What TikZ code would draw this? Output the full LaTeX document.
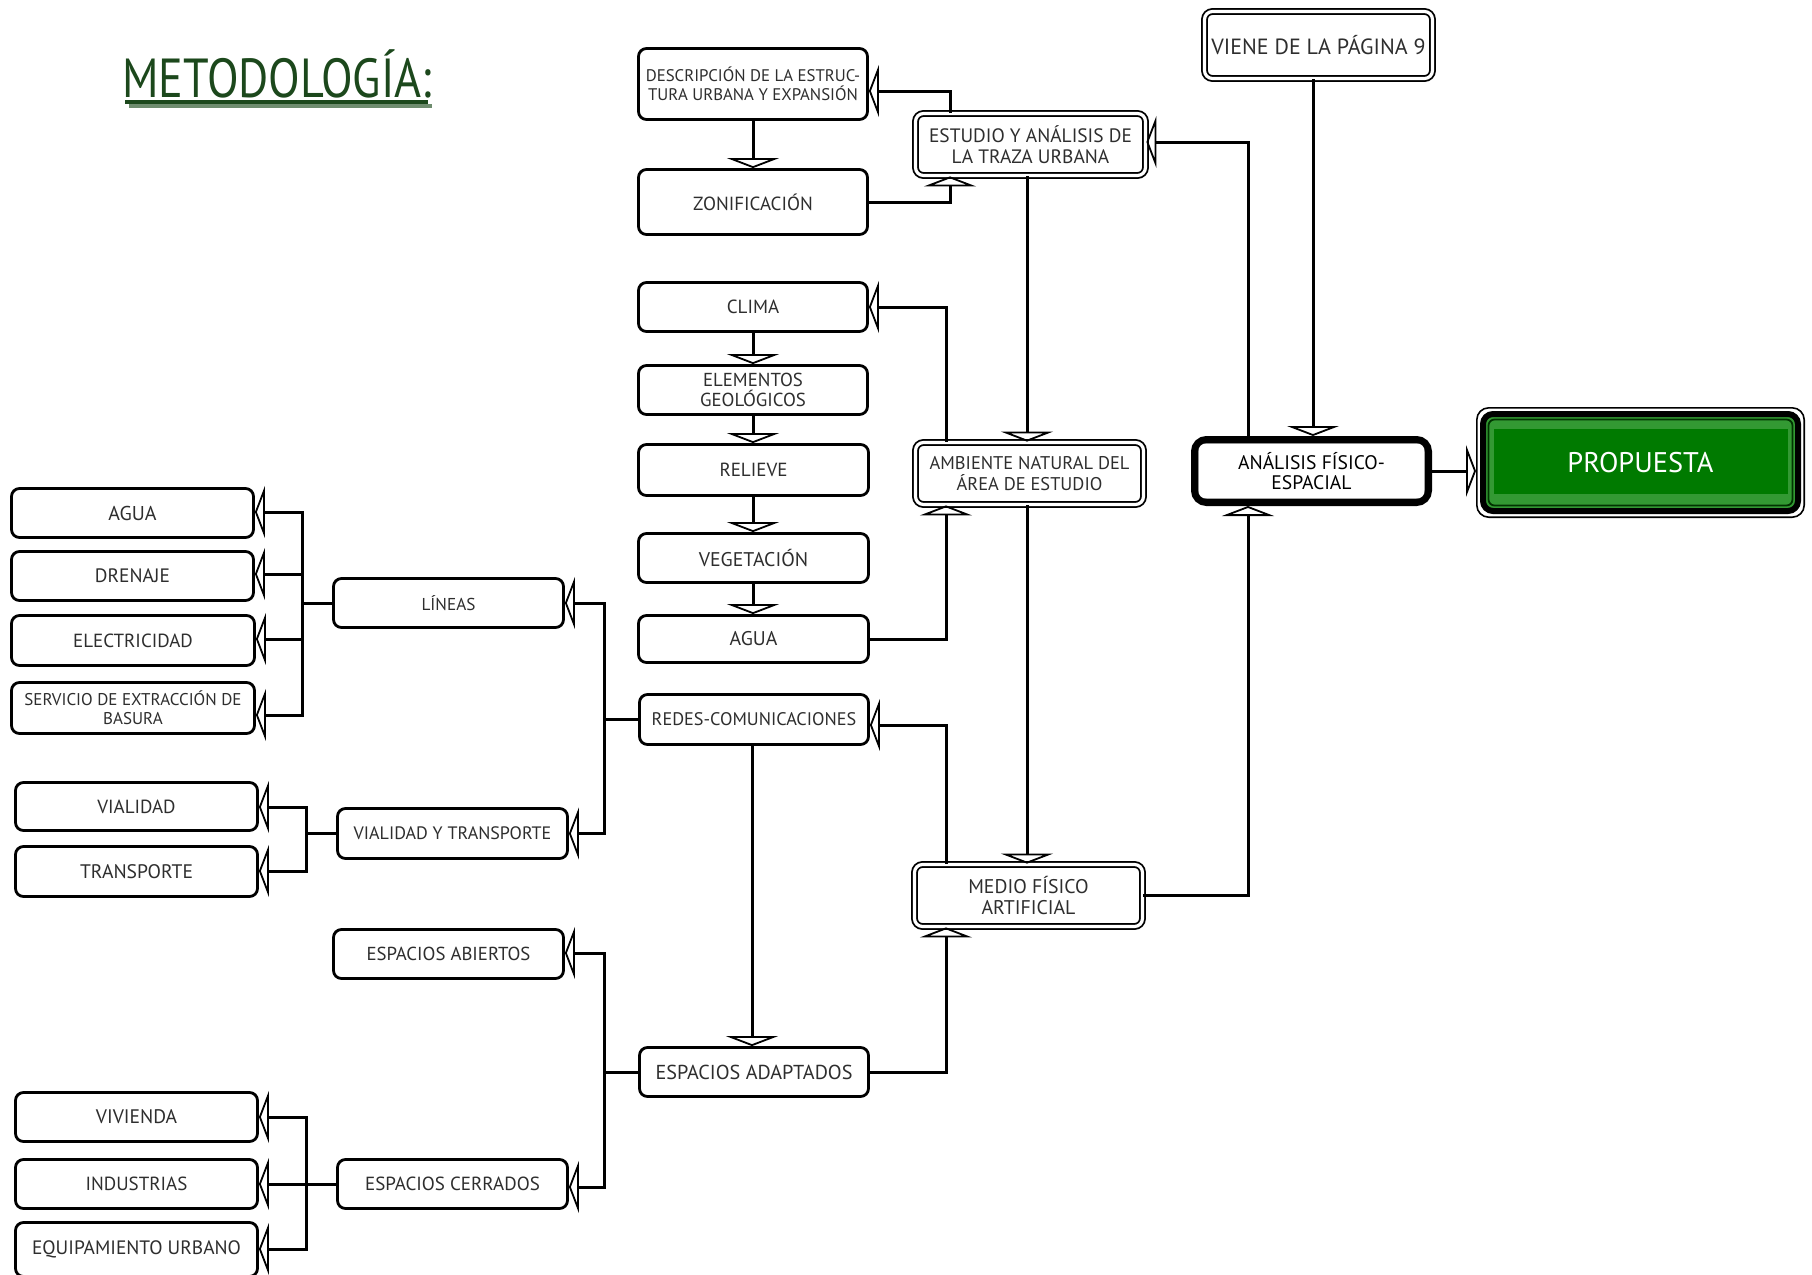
\documentclass[tikz,border=0pt]{standalone}
\usepackage{fontspec}
\setmainfont{PT Sans}
\usetikzlibrary{arrows.meta,backgrounds}
\definecolor{tgreen}{RGB}{28,72,28}
\definecolor{tshadow}{RGB}{110,140,110}
\definecolor{pdark}{RGB}{0,122,0}
\definecolor{plight}{RGB}{51,153,51}
\newcommand\fs[1]{\fontsize{#1}{#1+1.3}\selectfont}
\begin{document}
\begin{tikzpicture}[x=0.5pt,y=-0.5pt,
  rect/.style n args={4}{minimum width={(#3-#1)*0.5pt}, minimum height={(#4-#2)*0.5pt}, at={({(#1+#3)/2},{(#2+#4)/2})}},
  box/.style={draw, rounded corners=4pt, line width=1.4pt, fill=white, inner sep=0pt, align=center, text=black!82, font=\fontsize{9.5}{11}\selectfont},
  dbox/.style={box, line width=0.9pt, double=white, double distance=1.6pt},
  conn/.style={line width=1.5pt, -{Triangle[open,length=5pt,width=26pt,line width=0.9pt]}},
  wire/.style={line width=1.5pt}]
\useasboundingbox (0,0) rectangle (1812,1275);

% title
\node[anchor=base, text=tgreen, font=\fontsize{27.5}{30}\selectfont] (title) at (277,97) {\scalebox{0.84}[1]{METODOLOGÍA:}};
\draw[tshadow, line width=1.6pt] (129,106) -- (432,106);
\draw[tgreen, line width=1.6pt] (125,102) -- (428,102);

% column of traza urbana
\node[box, font=\fontsize{8.4}{9.6}\selectfont, rect={638.5}{48.5}{867.5}{119.5}] (desc) {DESCRIPCIÓN DE LA ESTRUC-\\TURA URBANA Y EXPANSIÓN};
\node[box, font=\fontsize{9.5}{11}\selectfont, rect={638.5}{169.5}{867.5}{234.5}] (zon) {ZONIFICACIÓN};
\node[dbox, font=\fontsize{9.7}{10.3}\selectfont, rect={915.5}{113.5}{1145.5}{175.5}] (estudio) {ESTUDIO Y ANÁLISIS DE\\LA TRAZA URBANA};
\node[dbox, font=\fontsize{11}{13}\selectfont, rect={1204.5}{11.5}{1432.5}{78.5}] (viene) {VIENE DE LA PÁGINA 9};

% ambiente natural
\node[box, rect={638.5}{282.5}{867.5}{331.5}] (clima) {CLIMA};
\node[box, font=\fontsize{9.4}{10}\selectfont, rect={638.5}{365.5}{867.5}{414.5}] (elem) {ELEMENTOS\\GEOLÓGICOS};
\node[box, rect={638.5}{444.5}{868.5}{495.5}] (relieve) {RELIEVE};
\node[box, font=\fontsize{9.9}{11}\selectfont, rect={638.5}{533.5}{868.5}{582.5}] (veg) {VEGETACIÓN};
\node[box, font=\fontsize{9.9}{11}\selectfont, rect={638.5}{615.5}{868.5}{662.5}] (agua1) {AGUA};
\node[dbox, font=\fontsize{9.2}{10.2}\selectfont, rect={915.5}{442.5}{1143.5}{504.5}] (ambiente) {AMBIENTE NATURAL DEL\\ÁREA DE ESTUDIO};

% analisis
\node[box, line width=3.5pt, rounded corners=6pt, text=black, font=\fontsize{9.8}{10.2}\selectfont, rect={1194.5}{439.5}{1428.5}{502.5}] (analisis) {ANÁLISIS FÍSICO-\\ESPACIAL};
\draw[line width=0.9pt, rounded corners=3pt] ([shift={(6.5,6.5)}]analisis.north west) rectangle ([shift={(-6.5,-6.5)}]analisis.south east);

% propuesta
\node[draw, line width=0.8pt, rounded corners=6pt, inner sep=0pt, text=white, font=\fontsize{14.2}{16}\selectfont, rect={1476.8}{407.8}{1804.2}{517.2}] (prop) {PROPUESTA};
\begin{scope}[on background layer]
  \draw[line width=3pt, fill=plight, rounded corners=5pt] ([shift={(7,7)}]prop.north west) rectangle ([shift={(-7,-7)}]prop.south east);
  \draw[line width=0.9pt, draw=black!80!green, fill=plight, rounded corners=3pt] ([shift={(12.5,12.5)}]prop.north west) rectangle ([shift={(-12.5,-12.5)}]prop.south east);
  \fill[pdark] ([shift={(18,22)}]prop.north west) rectangle ([shift={(-17,-24)}]prop.south east);
\end{scope}

% redes
\node[box, font=\fontsize{9.1}{11}\selectfont, rect={639.5}{694.5}{868.5}{744.5}] (redes) {REDES-COMUNICACIONES};
\node[box, font=\fontsize{8.6}{10}\selectfont, rect={333.5}{578.5}{563.5}{627.5}] (lineas) {LÍNEAS};
\node[box, font=\fontsize{10}{11}\selectfont, rect={11.5}{488.5}{253.5}{537.5}] (agua2) {AGUA};
\node[box, font=\fontsize{9.7}{11}\selectfont, rect={11.5}{551.5}{253.5}{600.5}] (drenaje) {DRENAJE};
\node[box, rect={11.5}{615.5}{254.5}{665.5}] (elec) {ELECTRICIDAD};
\node[box, font=\fontsize{8.5}{9.6}\selectfont, rect={11.5}{682.5}{254.5}{733.5}] (serv) {SERVICIO DE EXTRACCIÓN DE\\BASURA};
\node[box, font=\fontsize{9}{10}\selectfont, rect={337.5}{808.5}{567.5}{858.5}] (vyt) {VIALIDAD Y TRANSPORTE};
\node[box, rect={15.5}{782.5}{257.5}{830.5}] (vialidad) {VIALIDAD};
\node[box, font=\fontsize{9.8}{11}\selectfont, rect={15.5}{846.5}{257.5}{896.5}] (transporte) {TRANSPORTE};

% medio fisico
\node[dbox, font=\fontsize{9.9}{10.2}\selectfont, rect={914.5}{864.5}{1142.5}{926.5}] (medio) {MEDIO FÍSICO\\ARTIFICIAL};
\node[box, font=\fontsize{9.4}{11}\selectfont, rect={333.5}{929.5}{563.5}{978.5}] (abiertos) {ESPACIOS ABIERTOS};
\node[box, font=\fontsize{10.1}{11}\selectfont, rect={639.5}{1047.5}{868.5}{1096.5}] (adaptados) {ESPACIOS ADAPTADOS};
\node[box, rect={337.5}{1159.5}{567.5}{1208.5}] (cerrados) {ESPACIOS CERRADOS};
\node[box, font=\fontsize{9.8}{11}\selectfont, rect={15.5}{1092.5}{257.5}{1141.5}] (vivienda) {VIVIENDA};
\node[box, rect={15.5}{1159.5}{257.5}{1208.5}] (industrias) {INDUSTRIAS};
\node[box, font=\fontsize{9.7}{11}\selectfont, rect={15.5}{1222.5}{257.5}{1276.5}] (equip) {EQUIPAMIENTO URBANO};

% connectors: traza urbana
\draw[conn] (estudio.north -| 950,0) |- (desc.east |- 0,91);
\draw[conn] (desc.south) -- (zon.north);
\draw[conn] (zon.east) -| (estudio.south -| 950,0);
\draw[conn] (analisis.north -| 1248,0) |- (estudio.east |- 0,142);
\draw[conn] (viene.south -| 1313,0) -- (analisis.north -| 1313,0);
\draw[conn] (estudio.south -| 1027,0) -- (ambiente.north -| 1027,0);

% ambiente natural
\draw[conn] (ambiente.north -| 946,0) |- (clima.east);
\draw[conn] (clima.south) -- (elem.north);
\draw[conn] (elem.south) -- (relieve.north -| elem.south);
\draw[conn] (relieve.south -| elem.south) -- (veg.north -| elem.south);
\draw[conn] (veg.south -| elem.south) -- (agua1.north -| elem.south);
\draw[conn] (agua1.east) -| (ambiente.south -| 946,0);
\draw[conn] (ambiente.south -| 1027,0) -- (medio.north -| 1027,0);

% medio fisico artificial
\draw[conn] (medio.north -| 946,0) |- (redes.east |- 0,725);
\draw[wire] (redes.west) -- (604,0 |- redes.west) coordinate (j1);
\draw[conn] (j1) |- (lineas.east);
\draw[conn] (j1) |- (vyt.east);
\draw[conn] (redes.south -| 752,0) -- (adaptados.north -| 752,0);
\draw[wire] (adaptados.west) -- (604,0 |- adaptados.west) coordinate (j2);
\draw[conn] (j2) |- (abiertos.east |- 0,953);
\draw[conn] (j2) |- (cerrados.east |- 0,1187);
\draw[conn] (adaptados.east) -| (medio.south -| 946,0);
\draw[conn] (medio.east) -| (analisis.south -| 1248,0);
\draw[conn] (analisis.east) -- (analisis.east -| prop.west);

% left branches
\draw[wire] (lineas.west) -- (302,0 |- lineas.west) coordinate (j3);
\draw[conn] (j3) |- (agua2.east |- 0,512);
\draw[conn] (j3) |- (drenaje.east |- 0,574);
\draw[conn] (j3) |- (elec.east |- 0,639);
\draw[conn] (j3) |- (serv.east |- 0,715);
\draw[wire] (vyt.west) -- (306,0 |- vyt.west) coordinate (j4);
\draw[conn] (j4) |- (vialidad.east |- 0,807);
\draw[conn] (j4) |- (transporte.east |- 0,871);
\draw[wire] (cerrados.west) -- (306,0 |- cerrados.west) coordinate (j5);
\draw[conn] (j5) |- (vivienda.east |- 0,1117);
\draw[conn] (j5) |- (industrias.east |- 0,1184);
\draw[conn] (j5) |- (equip.east |- 0,1249);
\end{tikzpicture}
\end{document}
